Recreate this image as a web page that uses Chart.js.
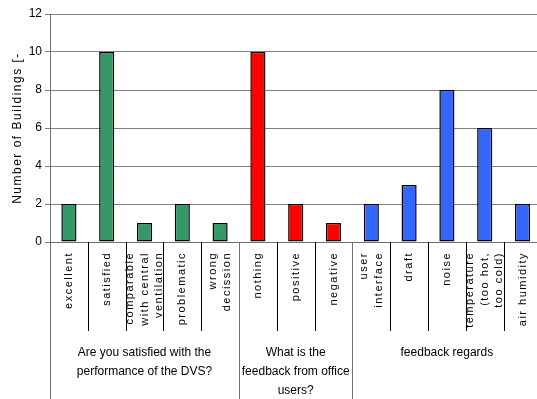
<!DOCTYPE html>
<html>
<head>
<meta charset="utf-8">
<script src="https://cdn.jsdelivr.net/npm/chart.js@4/dist/chart.umd.min.js"></script>
<style>
  html, body { margin: 0; padding: 0; background: #fff; overflow: hidden; }
  #wrap { width: 537px; height: 399px; overflow: hidden; }
</style>
</head>
<body>
<div id="wrap"><canvas id="chart" width="545" height="399"></canvas></div>
<script>
// ── Data ──
const categories = [
  'excellent', 'satisfied', ['comparable', 'with central', 'ventilation'], 'problematic', ['wrong', 'decission'],
  'nothing', 'positive', 'negative',
  ['user', 'interface'], 'draft', 'noise', ['temperature', '(too hot,', 'too cold)'], 'air humidity'
];
const values = [2, 10, 1, 2, 1, 10, 2, 1, 2, 3, 8, 6, 2];

const groupLabels = [
  ['Are you satisfied with the', 'performance of the DVS?'],
  ['What is the', 'feedback from office', 'users?'],
  ['feedback regards']
];
const groupSizes = [5, 3, 5];
const groupColours = ['#339966', '#ff0000', '#3366ff'];

const yTicks = [0, 2, 4, 6, 8, 10, 12];
const yTitle = 'Number of Buildings [-';

const FONT = '"Liberation Sans", Arial, sans-serif';

// colour per bar from its group
const barColours = [];
groupSizes.forEach((n, g) => { for (let i = 0; i < n; i++) barColours.push(groupColours[g]); });

// ── Category labels, separators, group labels, axis title ──
const labelsPlugin = {
  id: 'multiLevel',
  afterDraw(chart) {
    const ctx = chart.ctx;
    const xs = chart.scales.x;
    const ys = chart.scales.y;
    const w = (xs.right - xs.left) / categories.length;
    const axisY = ys.bottom;
    const H = chart.height;

    ctx.save();
    // separators between categories
    ctx.strokeStyle = '#000';
    ctx.lineWidth = 1;
    for (let k = 1; k < categories.length; k++) {
      const x = Math.round(xs.left + k * w) + 0.5;
      ctx.beginPath(); ctx.moveTo(x, axisY); ctx.lineTo(x, 331); ctx.stroke();
    }
    // group separators
    ctx.strokeStyle = '#707070';
    let k = 0;
    const bounds = [0];
    groupSizes.forEach(n => { k += n; bounds.push(k); });
    bounds.forEach(b => {
      const x = Math.round(xs.left + b * w) + 0.5;
      ctx.beginPath(); ctx.moveTo(x, axisY); ctx.lineTo(x, H); ctx.stroke();
    });

    // rotated category labels
    ctx.fillStyle = '#000';
    ctx.font = '11px ' + FONT;
    ctx.letterSpacing = '1.5px';
    categories.forEach((lab, i) => {
      const lines = Array.isArray(lab) ? lab : [lab];
      const cx = xs.getPixelForValue(i);
      lines.forEach((ln, j) => {
        const x = cx + (j - (lines.length - 1) / 2) * 14.5;
        ctx.save();
        ctx.translate(x, 252);
        ctx.rotate(-Math.PI / 2);
        ctx.textAlign = 'right';
        ctx.textBaseline = 'middle';
        ctx.fillText(ln, 0, 0);
        ctx.restore();
      });
    });

    // group labels
    ctx.letterSpacing = '0px';
    ctx.font = '12px ' + FONT;
    ctx.textAlign = 'center';
    ctx.textBaseline = 'middle';
    groupLabels.forEach((lines, g) => {
      const cx = xs.left + (bounds[g] + bounds[g + 1]) / 2 * w;
      lines.forEach((ln, j) => ctx.fillText(ln, cx, 353 + j * 19));
    });

    // y axis title
    ctx.font = '12px ' + FONT;
    ctx.letterSpacing = '1.5px';
    ctx.translate(17.5, (ys.top + ys.bottom) / 2);
    ctx.rotate(-Math.PI / 2);
    ctx.fillText(yTitle, 0, 0);
    ctx.restore();
  }
};

new Chart(document.getElementById('chart'), {
  type: 'bar',
  data: {
    labels: categories,
    datasets: [{
      data: values,
      backgroundColor: barColours,
      borderColor: '#000',
      borderWidth: 1.5,
      borderSkipped: false,
      categoryPercentage: 1,
      barPercentage: 0.4
    }]
  },
  options: {
    responsive: false,
    animation: false,
    layout: { padding: { top: 14, right: 3.6, left: 0, bottom: 0 } },
    plugins: { legend: { display: false }, tooltip: { enabled: false } },
    scales: {
      x: {
        ticks: { display: false },
        grid: { display: false },
        border: { display: true, color: '#707070', width: 1 },
        afterFit: s => { s.height = 157; }
      },
      y: {
        min: yTicks[0],
        max: yTicks[yTicks.length - 1],
        afterBuildTicks: s => { s.ticks = yTicks.map(v => ({ value: v })); },
        ticks: { color: '#000', padding: 3, font: { family: FONT, size: 12 } },
        grid: { color: '#808080', tickLength: 5, lineWidth: 1 },
        border: { display: true, color: '#707070', width: 1 },
        afterFit: s => { s.width = 50; }
      }
    }
  },
  plugins: [labelsPlugin]
});
</script>
</body>
</html>
